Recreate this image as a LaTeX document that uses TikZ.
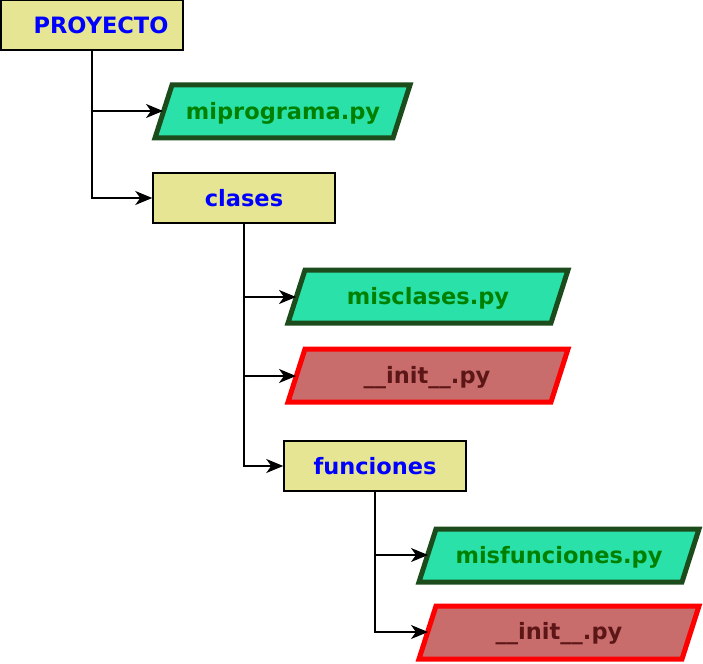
\documentclass[tikz,border=0pt]{standalone}
\usepackage{fontspec}
\setmainfont{DejaVu Sans}
\usetikzlibrary{arrows.meta}
\definecolor{boxfill}{RGB}{229,229,148}
\definecolor{pyfill}{RGB}{42,225,169}
\definecolor{pyline}{RGB}{28,75,28}
\definecolor{pytext}{RGB}{0,128,0}
\definecolor{initfill}{RGB}{200,108,108}
\definecolor{inittext}{RGB}{92,22,22}
\tikzset{
  dirbox/.style={draw=black, line width=1.5pt, fill=boxfill, minimum width=182pt, minimum height=50pt, inner sep=0pt, text=blue, font=\fontsize{22.5}{26}\selectfont\bfseries},
  pyshape/.style={draw=pyline, line width=5pt, fill=pyfill, line join=miter},
  initshape/.style={draw=red, line width=5pt, fill=initfill, line join=miter},
  pylabel/.style={text=pytext, inner sep=0pt, font=\fontsize{22.5}{26}\selectfont\bfseries},
  initlabel/.style={text=inittext, inner sep=0pt, font=\fontsize{22.5}{26}\selectfont\bfseries},
  conn/.style={draw=black, line width=1.5pt, -{Stealth[length=17pt,width=14pt,inset=5pt]}}
}
\begin{document}
\begin{tikzpicture}[x=1pt,y=-1pt]
\useasboundingbox (0,0) rectangle (703,663);
% directories
\node[dirbox] (proy) at (92,25) {\hspace*{18pt}PROYECTO};
\node[dirbox] (clases) at (244,198) {clases};
\node[dirbox] (func) at (375,466) {funciones};
% files
\filldraw[pyshape] (172,85) -- (410,85) -- (393,138) -- (155,138) -- cycle;
\node[pylabel] (mipr) at (283,113) {miprograma.py};
\coordinate (miprL) at (163,111);
\filldraw[pyshape] (305,270) -- (568,270) -- (551,323) -- (288,323) -- cycle;
\node[pylabel] (miscl) at (428,298) {misclases.py};
\coordinate (misclL) at (296,297);
\filldraw[initshape] (305,349) -- (568,349) -- (551,402) -- (288,402) -- cycle;
\node[initlabel] (initA) at (427,378) {\_\_init\_\_.py};
\coordinate (initAL) at (296,376);
\filldraw[pyshape] (436,529) -- (699,529) -- (682,582) -- (419,582) -- cycle;
\node[pylabel] (misfu) at (559,557) {misfunciones.py};
\coordinate (misfuL) at (428,555);
\filldraw[initshape] (436,606) -- (699,606) -- (682,659) -- (419,659) -- cycle;
\node[initlabel] (initB) at (559,634) {\_\_init\_\_.py};
\coordinate (initBL) at (428,632);
% connectors
\draw[conn] (proy.south) |- (clases.west);
\draw[conn] (proy.south |- miprL) -- (miprL);
\draw[conn] (clases.south) |- (func.west);
\draw[conn] (clases.south |- misclL) -- (misclL);
\draw[conn] (clases.south |- initAL) -- (initAL);
\draw[conn] (func.south) |- (initBL);
\draw[conn] (func.south |- misfuL) -- (misfuL);
\end{tikzpicture}
\end{document}
